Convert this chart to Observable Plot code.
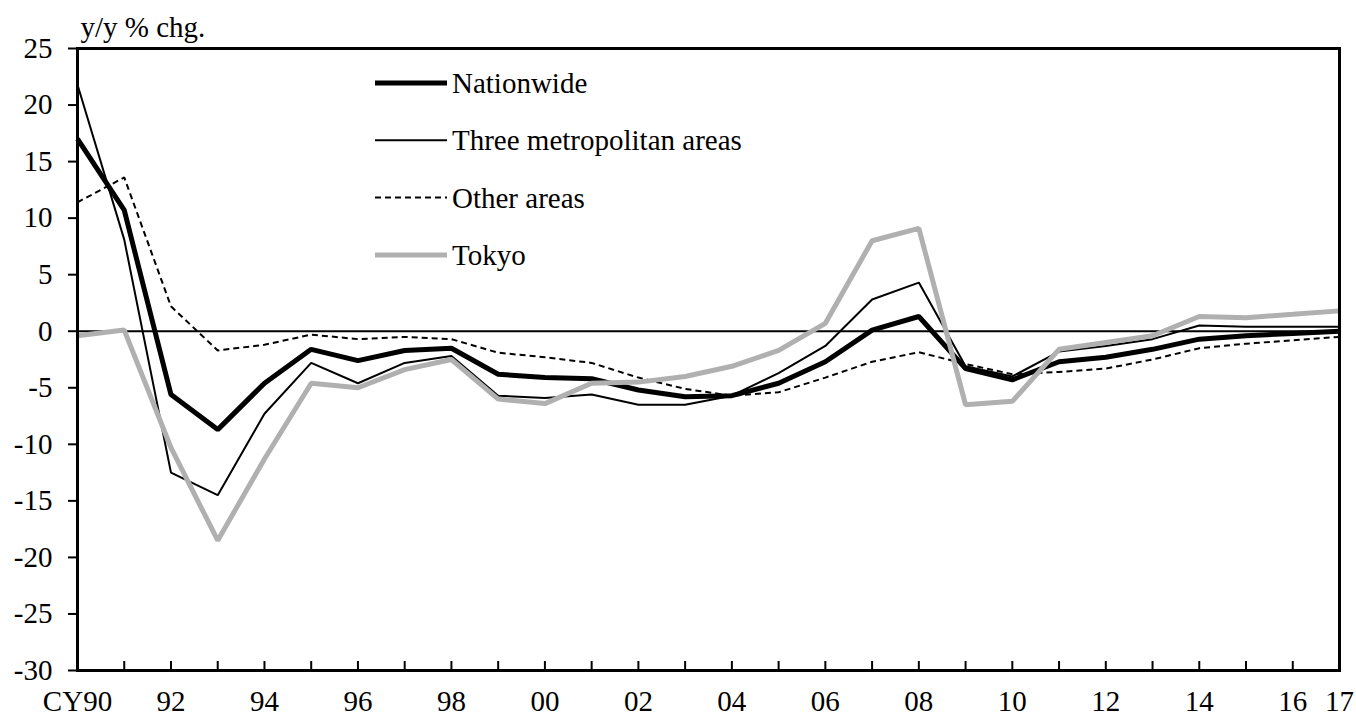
<!DOCTYPE html>
<html>
<head>
<meta charset="utf-8">
<script src="https://cdn.jsdelivr.net/npm/d3@7"></script>
<script src="https://cdn.jsdelivr.net/npm/@observablehq/plot@0.6"></script>
<style>
  body { margin: 0; background: #fff; }
  #chart { width: 1356px; height: 718px; }
</style>
</head>
<body>
<div id="chart"></div>
<script>
const years = [1990,1991,1992,1993,1994,1995,1996,1997,1998,1999,2000,2001,2002,2003,2004,2005,2006,2007,2008,2009,2010,2011,2012,2013,2014,2015,2016,2017];
const nationwide = [17.0,10.7,-5.6,-8.7,-4.6,-1.6,-2.6,-1.7,-1.5,-3.8,-4.1,-4.2,-5.2,-5.8,-5.7,-4.6,-2.7,0.1,1.3,-3.3,-4.3,-2.7,-2.3,-1.6,-0.7,-0.4,-0.2,0.0];
const threeMetro = [21.8,8.1,-12.5,-14.5,-7.3,-2.8,-4.6,-2.8,-2.2,-5.7,-5.9,-5.6,-6.5,-6.5,-5.7,-3.7,-1.3,2.8,4.3,-3.1,-4.0,-1.8,-1.3,-0.7,0.5,0.4,0.4,0.4];
const otherAreas = [11.4,13.6,2.2,-1.7,-1.2,-0.3,-0.7,-0.5,-0.7,-1.9,-2.3,-2.8,-4.1,-5.1,-5.7,-5.4,-4.1,-2.7,-1.85,-2.9,-3.8,-3.6,-3.3,-2.5,-1.5,-1.1,-0.8,-0.5];
const tokyo = [-0.4,0.1,-10.3,-18.5,-11.3,-4.6,-5.0,-3.4,-2.5,-6.0,-6.4,-4.6,-4.5,-4.0,-3.1,-1.7,0.7,8.0,9.1,-6.5,-6.2,-1.6,-1.0,-0.4,1.3,1.2,1.5,1.8];

const seriesNames = ["Nationwide","Three metropolitan areas","Other areas","Tokyo"];
const yTicks = [-30,-25,-20,-15,-10,-5,0,5,10,15,20,25];
const xLabelYears = [1990,1992,1994,1996,1998,2000,2002,2004,2006,2008,2010,2012,2014,2016,2017];
const xLabelTexts = ["CY90","92","94","96","98","00","02","04","06","08","10","12","14","16","17"];
const yUnit = "y/y % chg.";

const seriesValues = [nationwide, threeMetro, otherAreas, tokyo];
const seriesStyle = [
  {stroke: "#000000", strokeWidth: 5, dash: null},
  {stroke: "#000000", strokeWidth: 2, dash: null},
  {stroke: "#000000", strokeWidth: 2, dash: "6,4"},
  {stroke: "#b0b0b0", strokeWidth: 5, dash: null}
];
const FS = 29;
const FONT = "'Liberation Serif', 'Times New Roman', 'DejaVu Serif', serif";

const lineMarks = seriesValues.map((vals, i) =>
  Plot.line(years.map((yr, j) => ({year: yr, value: vals[j]})), {
    x: "year", y: "value",
    stroke: seriesStyle[i].stroke,
    strokeWidth: seriesStyle[i].strokeWidth,
    strokeDasharray: seriesStyle[i].dash,
    strokeLinejoin: "miter",
    strokeLinecap: "butt"
  })
);

const chart = Plot.plot({
  width: 1356,
  height: 718,
  marginLeft: 77,
  marginRight: 17,
  marginTop: 48,
  marginBottom: 48,
  style: {fontFamily: FONT, fontSize: FS + "px", background: "#fff", color: "#000"},
  x: {domain: [1990, 2017]},
  y: {domain: [-30, 25]},
  marks: [
    Plot.ruleY([0], {stroke: "#000", strokeWidth: 2}),
    ...lineMarks,
    Plot.axisY({ticks: yTicks, tickSize: 9, tickPadding: 16, strokeWidth: 2, label: null, fontSize: FS, tickFormat: d => String(d)}),
    Plot.axisX({ticks: years, tickSize: 9, dy: -9, strokeWidth: 2, label: null, tickFormat: () => ""}),
    Plot.axisX({ticks: xLabelYears, tickSize: 0, tickPadding: 20, label: null, fontSize: FS, tickFormat: d => xLabelTexts[xLabelYears.indexOf(d)]}),
    Plot.frame({stroke: "#000", strokeWidth: 3}),
    Plot.text([yUnit], {text: d => d, frameAnchor: "top-left", dx: 3, dy: -12, lineAnchor: "bottom", textAnchor: "start", fontSize: FS})
  ]
});

document.getElementById("chart").appendChild(chart);

// Legend inside the plot area
const svg = d3.select(chart).attr("font-family", FONT);
const lg = svg.append("g").attr("class", "legend").attr("text-anchor", "start").attr("font-family", FONT);
seriesNames.forEach((name, i) => {
  const y = 83 + i * 57.3;
  lg.append("line")
    .attr("x1", 375).attr("x2", 447).attr("y1", y).attr("y2", y)
    .attr("stroke", seriesStyle[i].stroke)
    .attr("stroke-width", seriesStyle[i].strokeWidth)
    .attr("stroke-dasharray", seriesStyle[i].dash);
  lg.append("text")
    .attr("x", 452).attr("y", y).attr("dy", "0.35em")
    .attr("text-anchor", "start")
    .attr("font-size", FS)
    .attr("fill", "#000")
    .text(name);
});
</script>
</body>
</html>
